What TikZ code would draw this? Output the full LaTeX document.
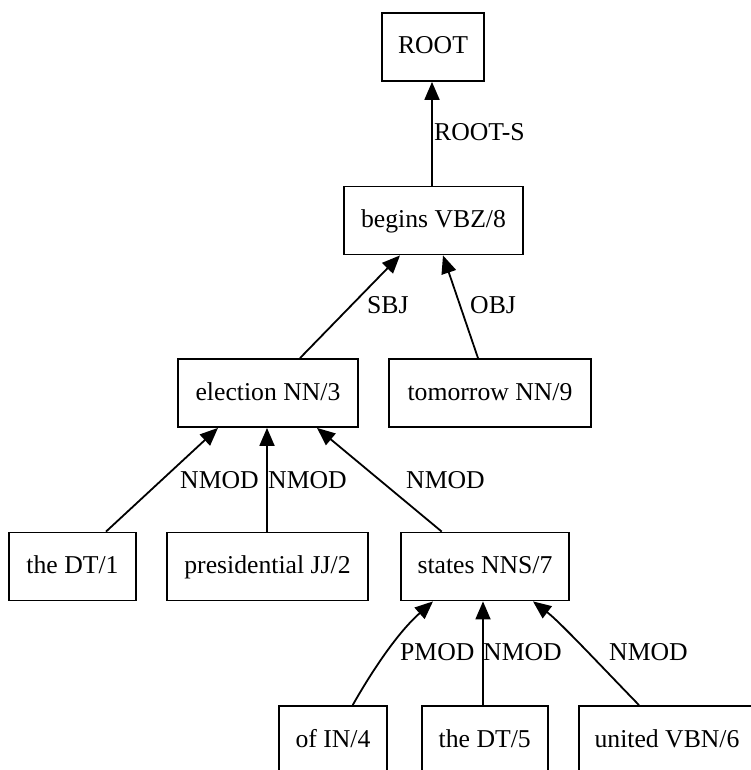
\documentclass[tikz,border=0pt]{standalone}
\usepackage{fontspec}
\setmainfont{Liberation Serif}
\usetikzlibrary{arrows.meta}
\begin{document}
\begin{tikzpicture}[x=1pt,y=-1pt,
  every node/.style={font=\fontsize{25.7pt}{30pt}\selectfont},
  box/.style={draw, line width=1.8pt, minimum height=68pt, inner sep=0pt,
              text height=19pt, text depth=5pt},
  lab/.style={anchor=base west, inner sep=0pt},
  conn/.style={line width=1.8pt, -{Triangle[length=18pt,width=15pt]}}]
\useasboundingbox (0,0) rectangle (751,770);
\clip (0,0) rectangle (751,770);
% nodes
\node[box, minimum width=102pt] (root) at (433,47) {ROOT};
\node[box, minimum width=179pt] (begins) at (433.5,220.5) {begins VBZ/8};
\node[box, minimum width=180pt] (election) at (268,393) {election NN/3};
\node[box, minimum width=202pt] (tomorrow) at (490,393) {tomorrow NN/9};
\node[box, minimum width=127pt] (dta) at (72.5,566.5) {the DT/1};
\node[box, minimum width=201pt] (pres) at (267.5,566.5) {presidential JJ/2};
\node[box, minimum width=168pt] (states) at (485,566.5) {states NNS/7};
\node[box, minimum width=108pt] (of) at (333,740) {of IN/4};
\node[box, minimum width=126pt] (dtb) at (484.7,740) {the DT/5};
\node[box, minimum width=176pt] (united) at (667,740) {united VBN/6};
% connectors
\draw[conn] ([xshift=-1.5pt]begins.north) -- ([xshift=-1pt]root.south);
\draw[conn] ([xshift=32pt]election.north) -- ([xshift=-33.5pt]begins.south);
\draw[conn] ([xshift=-12pt]tomorrow.north) -- ([xshift=9.5pt]begins.south);
\draw[conn] ([xshift=33.5pt]dta.north) -- ([xshift=-50pt]election.south);
\draw[conn] ([xshift=-0.5pt]pres.north) -- ([xshift=-1pt]election.south);
\draw[conn] ([xshift=-43.3pt]states.north) -- ([xshift=49pt]election.south);
\draw[conn] ([xshift=19.7pt]of.north) .. controls (368,678) and (395,635) .. ([xshift=-52pt]states.south);
\draw[conn] ([xshift=-1.7pt]dtb.north) -- ([xshift=-2pt]states.south);
\draw[conn] ([xshift=-28pt]united.north) .. controls (600,665) and (560,622) .. ([xshift=48pt]states.south);
% labels
\node[lab] (l0) at (434,140.7) {ROOT-S};
\node[lab] (l1) at (367,313.3) {SBJ};
\node[lab] (l2) at (470,313.3) {OBJ};
\node[lab] (l3) at (180,488) {NMOD};
\node[lab] (l4) at (268,488) {NMOD};
\node[lab] (l5) at (406,488) {NMOD};
\node[lab] (l6) at (400,660.7) {PMOD};
\node[lab] (l7) at (483,660.7) {NMOD};
\node[lab] (l8) at (609,660.7) {NMOD};
\end{tikzpicture}
\end{document}
